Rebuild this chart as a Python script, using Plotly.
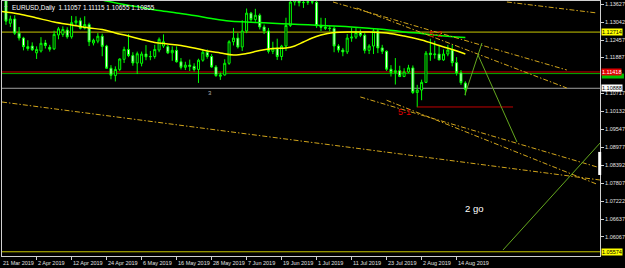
import plotly.graph_objects as go

# ---------------- data ----------------
dates = ["21 Mar 2019", "2 Apr 2019", "12 Apr 2019", "24 Apr 2019", "6 May 2019",
         "16 May 2019", "28 May 2019", "7 Jun 2019", "19 Jun 2019", "1 Jul 2019",
         "11 Jul 2019", "23 Jul 2019", "2 Aug 2019", "14 Aug 2019"]
date_idx = [0, 8, 16, 24, 32, 40, 48, 56, 64, 72, 80, 88, 96, 104]

opens = [1.1413, 1.1374, 1.1300, 1.1314, 1.1268, 1.1252, 1.1224, 1.1226, 1.1204, 1.1210,
         1.1236, 1.1222, 1.1217, 1.1262, 1.1264, 1.1278, 1.1256, 1.1302, 1.1308, 1.1284,
         1.1296, 1.1236, 1.1242, 1.1258, 1.1226, 1.1154, 1.1130, 1.1150, 1.1183, 1.1215,
         1.1195, 1.1171, 1.1170, 1.1200, 1.1191, 1.1192, 1.1213, 1.1226, 1.1224, 1.1204,
         1.1212, 1.1175, 1.1157, 1.1164, 1.1160, 1.1150, 1.1180, 1.1206, 1.1192, 1.1158,
         1.1128, 1.1132, 1.1170, 1.1240, 1.1252, 1.1223, 1.1275, 1.1333, 1.1312, 1.1326,
         1.1288, 1.1275, 1.1209, 1.1219, 1.1192, 1.1226, 1.1293, 1.1369, 1.1400, 1.1367,
         1.1368, 1.1370, 1.1368, 1.1292, 1.1287, 1.1284, 1.1283, 1.1226, 1.1213, 1.1207,
         1.1252, 1.1255, 1.1270, 1.1261, 1.1212, 1.1226, 1.1275, 1.1220, 1.1209, 1.1151,
         1.1140, 1.1146, 1.1127, 1.1142, 1.1155, 1.1075, 1.1083, 1.1108, 1.1203, 1.1198,
         1.1200, 1.1181, 1.1200, 1.1213, 1.1172, 1.1139, 1.11057]
highs = [1.1448, 1.1383, 1.1325, 1.1326, 1.1288, 1.1256, 1.1245, 1.1238, 1.1225, 1.1255,
         1.1246, 1.1230, 1.1276, 1.1288, 1.1290, 1.1287, 1.1324, 1.1323, 1.1318, 1.1323,
         1.1302, 1.1250, 1.1268, 1.1266, 1.1230, 1.1164, 1.1160, 1.1186, 1.1224, 1.1265,
         1.1206, 1.1208, 1.1208, 1.1229, 1.1210, 1.1230, 1.1254, 1.1264, 1.1230, 1.1225,
         1.1225, 1.1187, 1.1175, 1.1182, 1.1170, 1.1185, 1.1215, 1.1215, 1.1200, 1.1164,
         1.1140, 1.1183, 1.1245, 1.1285, 1.1268, 1.1310, 1.1348, 1.1337, 1.1347, 1.1332,
         1.1296, 1.1285, 1.1240, 1.1250, 1.1230, 1.1318, 1.1380, 1.1412, 1.1412, 1.1380,
         1.1392, 1.1385, 1.1395, 1.1318, 1.1317, 1.1292, 1.1290, 1.1232, 1.1220, 1.1265,
         1.1286, 1.1285, 1.1280, 1.1268, 1.1232, 1.1283, 1.1282, 1.1230, 1.1212, 1.1164,
         1.1187, 1.1162, 1.1154, 1.1165, 1.1163, 1.1100, 1.1117, 1.1210, 1.1250, 1.1243,
         1.1230, 1.1215, 1.1230, 1.1230, 1.1190, 1.1148, 1.11115]
lows = [1.1370, 1.1295, 1.1288, 1.1262, 1.1244, 1.1212, 1.1211, 1.1210, 1.1184, 1.1205,
        1.1218, 1.1208, 1.1213, 1.1248, 1.1256, 1.1250, 1.1250, 1.1294, 1.1280, 1.1280,
        1.1226, 1.1228, 1.1235, 1.1193, 1.1152, 1.1118, 1.1111, 1.1145, 1.1171, 1.1190,
        1.1162, 1.1135, 1.1160, 1.1180, 1.1180, 1.1185, 1.1206, 1.1220, 1.1200, 1.1178,
        1.1172, 1.1150, 1.1148, 1.1145, 1.1143, 1.1106, 1.1175, 1.1185, 1.1155, 1.1126,
        1.1116, 1.1130, 1.1165, 1.1228, 1.1218, 1.1210, 1.1268, 1.1305, 1.1305, 1.1280,
        1.1265, 1.1202, 1.1200, 1.1181, 1.1180, 1.1210, 1.1288, 1.1358, 1.1355, 1.1350,
        1.1360, 1.1362, 1.1285, 1.1275, 1.1278, 1.1274, 1.1206, 1.1205, 1.1193, 1.1200,
        1.1240, 1.1249, 1.1255, 1.1202, 1.1200, 1.1200, 1.1203, 1.1200, 1.1145, 1.1127,
        1.1101, 1.1125, 1.1125, 1.1138, 1.1070, 1.1027, 1.1050, 1.1106, 1.1178, 1.1185,
        1.1180, 1.1178, 1.1193, 1.1160, 1.1130, 1.1100, 1.10655]
closes = [1.1374, 1.1307, 1.1314, 1.1268, 1.1252, 1.1224, 1.1218, 1.1214, 1.1215, 1.1235,
          1.1228, 1.1216, 1.1264, 1.1282, 1.1280, 1.1256, 1.1302, 1.1308, 1.1284, 1.1296,
          1.1240, 1.1245, 1.1258, 1.1225, 1.1154, 1.1131, 1.1150, 1.1184, 1.1215, 1.1195,
          1.1171, 1.1201, 1.1200, 1.1191, 1.1192, 1.1215, 1.1248, 1.1240, 1.1204, 1.1212,
          1.1175, 1.1157, 1.1164, 1.1160, 1.1150, 1.1180, 1.1206, 1.1192, 1.1158, 1.1130,
          1.1132, 1.1170, 1.1240, 1.1252, 1.1223, 1.1275, 1.1333, 1.1312, 1.1326, 1.1288,
          1.1275, 1.1209, 1.1219, 1.1192, 1.1226, 1.1293, 1.1369, 1.1400, 1.1367, 1.1368,
          1.1370, 1.1369, 1.1292, 1.1287, 1.1284, 1.1283, 1.1226, 1.1213, 1.1207, 1.1252,
          1.1255, 1.1270, 1.1261, 1.1212, 1.1226, 1.1275, 1.1220, 1.1209, 1.1151, 1.1140,
          1.1146, 1.1127, 1.1142, 1.1155, 1.1075, 1.1083, 1.1108, 1.1203, 1.1198, 1.1200,
          1.1181, 1.1200, 1.1213, 1.1172, 1.1139, 1.1107, 1.10855]

# yellow moving average (read at selected bars)
ma_y_idx = [0, 4, 8, 12, 16, 20, 23, 26, 29, 32, 35, 38, 41, 44, 47, 50, 53, 56, 59, 62,
            65, 67, 69, 71, 73, 76, 80, 84, 88, 92, 96, 100, 103, 106]
ma_y_val = [1.13383, 1.13302, 1.13172, 1.13042, 1.12945, 1.12847, 1.12798, 1.12685, 1.12587,
            1.12474, 1.12376, 1.12327, 1.12278, 1.12197, 1.12100, 1.12035, 1.11970, 1.12018,
            1.12116, 1.12181, 1.12197, 1.12262, 1.12392, 1.12522, 1.12620, 1.12701, 1.12717,
            1.12717, 1.12685, 1.12587, 1.12457, 1.12278, 1.12148, 1.12002]
# green moving average
ma_g_idx = [22, 24, 28, 32, 36, 40, 44, 48, 52, 56, 60, 64, 68, 72, 76, 80, 84, 88, 92, 96,
            100, 104, 106]
ma_g_val = [1.13790, 1.13725, 1.13611, 1.13513, 1.13416, 1.13335, 1.13253, 1.13156, 1.13075,
            1.13042, 1.13016, 1.12984, 1.12961, 1.12938, 1.12912, 1.12880, 1.12837, 1.12792,
            1.12717, 1.12668, 1.12603, 1.12555, 1.12538]

# horizontal levels
level_yellow_top = 1.12714
level_red = 1.11418
level_green = 1.11365
level_bid = 1.10888
level_yellow_bottom = 1.05574
level_low_ray = 1.10280

# trend lines (bar index, price) pairs
trend_dashdot = [
    ((75.75, 1.13692), (129.2, 1.11482)),
    ((81.2, 1.13497), (129.2, 1.10897)),
    ((115.5, 1.13692), (136.1, 1.13335)),
    ((82.0, 1.10605), (136.1, 1.08330)),
    ((88.0, 1.10500), (136.1, 1.07770)),
    ((0.09, 1.10442), (136.8, 1.07907)),
]
trend_green = [
    ((105.9, 1.10670), (109.8, 1.12360)),
    ((108.9, 1.11970), (117.8, 1.09142)),
    ((114.6, 1.05632), (136.8, 1.09110)),
]
red_ray = (95.0, 116.9)

yticks = [1.13627, 1.13042, 1.12457, 1.11887, 1.10717, 1.10132, 1.09547, 1.08977,
          1.08392, 1.07807, 1.07222, 1.06637, 1.06067]

header = "EURUSD,Daily  1.11057 1.11115 1.10655 1.10855"

# ---------------- figure ----------------
FONT = "Liberation Sans"
GOLD = "#d2a51c"
XR = [(2 - 1.6) / 4.375, (600 - 1.6) / 4.375]
YR = [1.05437, 1.137245]
idx = list(range(len(closes)))

def xpaper(i):
    return (i - XR[0]) / (XR[1] - XR[0])

fig = go.Figure()
fig.add_trace(go.Candlestick(
    x=idx, open=opens, high=highs, low=lows, close=closes,
    increasing=dict(line=dict(color="#00ff00", width=1), fillcolor="black"),
    decreasing=dict(line=dict(color="#00ff00", width=1), fillcolor="white"),
    whiskerwidth=0, hoverinfo="skip", showlegend=False))
fig.add_trace(go.Scatter(x=ma_y_idx, y=ma_y_val, mode="lines",
                         line=dict(color="#ffff00", width=1.5, shape="spline"),
                         hoverinfo="skip", showlegend=False))
fig.add_trace(go.Scatter(x=ma_g_idx, y=ma_g_val, mode="lines",
                         line=dict(color="#00ff00", width=1.5, shape="spline"),
                         hoverinfo="skip", showlegend=False))

shapes = []
def hline(y, color, width=1):
    shapes.append(dict(type="line", xref="paper", x0=0, x1=1, yref="y", y0=y, y1=y,
                       line=dict(color=color, width=width), layer="below"))

hline(level_yellow_top, "#c8c800")
hline(level_red, "#d00000")
hline(level_green, "#00b000")
hline(level_bid, "#a0a0a0")
hline(level_yellow_bottom, "#c8c800")

shapes.append(dict(type="line", xref="x", yref="y", x0=red_ray[0], x1=red_ray[1],
                   y0=level_low_ray, y1=level_low_ray, line=dict(color="#c00000", width=1)))
for (a, b) in trend_dashdot:
    shapes.append(dict(type="line", xref="x", yref="y", x0=a[0], y0=a[1], x1=b[0], y1=b[1],
                       line=dict(color=GOLD, width=1, dash="5px,2px,1.5px,2px")))
for (a, b) in trend_green:
    shapes.append(dict(type="line", xref="x", yref="y", x0=a[0], y0=a[1], x1=b[0], y1=b[1],
                       line=dict(color="#64a81e", width=1)))
# scroll marker on right border
shapes.append(dict(type="rect", xref="paper", yref="y", x0=0.997, x1=1.002,
                   y0=1.0807, y1=1.0882, fillcolor="white", line=dict(width=0)))
# green price tag partly hidden under the red one
shapes.append(dict(type="rect", xref="paper", yref="y", x0=1.003, x1=1.04,
                   y0=level_green - 0.0016, y1=level_green, fillcolor="#00c000",
                   line=dict(width=0)))

ann = []
for d, i in zip(dates, date_idx):
    ann.append(dict(x=xpaper(i), y=0, xref="paper", yref="paper", text=d, showarrow=False,
                    xanchor="left", yanchor="top", xshift=-1, yshift=-2,
                    font=dict(family=FONT, size=5.5, color="#e0e0e0")))

def price_label(y, text, bg, fg):
    ann.append(dict(x=1, y=y, xref="paper", yref="y", text=text, showarrow=False,
                    xanchor="left", yanchor="middle", xshift=1, bgcolor=bg, borderpad=0,
                    font=dict(family=FONT, size=5.5, color=fg)))

price_label(level_yellow_top, "1.12714", "#ffff00", "black")
price_label(level_red, "1.11418", "#e00000", "white")
price_label(level_bid, "1.10888", "white", "black")
price_label(level_yellow_bottom, "1.05574", "#ffff00", "black")

ann.append(dict(x=0, y=1, xref="paper", yref="paper", text=header, showarrow=False,
                xanchor="left", yanchor="top", xshift=8, yshift=-0.5,
                font=dict(family=FONT, size=6.4, color="white")))
ann.append(dict(x=0, y=1, xref="paper", yref="paper", text="+", showarrow=False,
                xanchor="left", yanchor="top", xshift=0, yshift=0,
                font=dict(family=FONT, size=6, color="#c0c0c0")))
ann.append(dict(x=92.0, y=1.10117, text="5-1", showarrow=False,
                font=dict(family=FONT, size=9, color="#e00000")))
ann.append(dict(x=99.1, y=1.12652, text="5-2", showarrow=False,
                font=dict(family=FONT, size=9, color="#e00000")))
ann.append(dict(x=47.6, y=1.10735, text="3", showarrow=False,
                font=dict(family=FONT, size=6, color="#b0b0b0")))
ann.append(dict(x=108.0, y=1.06965, text="2 go", showarrow=False,
                font=dict(family=FONT, size=9.5, color="white")))

fig.update_layout(
    width=625, height=268, margin=dict(l=2, r=25, t=1, b=12),
    paper_bgcolor="black", plot_bgcolor="black",
    shapes=shapes, annotations=ann, showlegend=False,
    xaxis=dict(range=XR, rangeslider=dict(visible=False),
               showgrid=False, zeroline=False, showline=True, linecolor="#d0d0d0", linewidth=1,
               mirror=True, ticks="outside", ticklen=3, tickcolor="#d0d0d0",
               tickvals=date_idx, showticklabels=False, fixedrange=True),
    yaxis=dict(range=YR, side="right", showgrid=False, zeroline=False,
               showline=True, linecolor="#d0d0d0", linewidth=1, mirror=True,
               ticks="outside", ticklen=3, tickcolor="#d0d0d0",
               tickvals=yticks, ticktext=[f"{v:.5f}" for v in yticks],
               tickfont=dict(family=FONT, size=5.5, color="#e0e0e0"), fixedrange=True),
    boxgap=0.35,
)
fig.write_html("out.html", config={"displayModeBar": False})
